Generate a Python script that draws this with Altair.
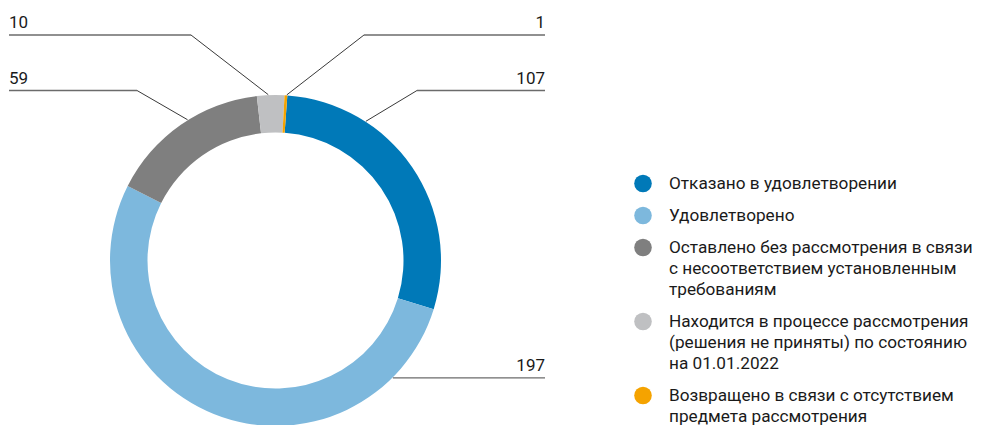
import math
import altair as alt
import pandas as pd

# ---------------- data ----------------
categories = [
    "Отказано в удовлетворении",
    "Удовлетворено",
    "Оставлено без рассмотрения в связи с несоответствием установленным требованиям",
    "Находится в процессе рассмотрения (решения не приняты) по состоянию на 01.01.2022",
    "Возвращено в связи с отсутствием предмета рассмотрения",
]
legend_lines = [
    ["Отказано в удовлетворении"],
    ["Удовлетворено"],
    ["Оставлено без рассмотрения в связи", "с несоответствием установленным", "требованиям"],
    ["Находится в процессе рассмотрения", "(решения не приняты) по состоянию", "на 01.01.2022"],
    ["Возвращено в связи с отсутствием", "предмета рассмотрения"],
]
values = [107, 197, 59, 10, 1]
value_labels = ["107", "197", "59", "10", "1"]
colors = ["#0079b8", "#7db8dd", "#7f7f7f", "#bfc0c2", "#f5a300"]

# ---------------- layout (annotation geometry) ----------------
W, H = 968, 417
M = 8
CX, CY = 275.5, 260.5
R_OUT, R_IN = 165.5, 128
START_DEG = 4.1
LEAD_R = 166
FONT = "Roboto"

leader_angle = [33, 135, 328, -2.5, 3.9]
label_side = ["right", "right", "left", "left", "right"]
row_y = [90.5, None, 90.5, 35, 35]
knee_x = [417, None, 137, 191, 364]
LEFT_X, RIGHT_X = 9, 545

diag_rows, horiz_rows, lab_rows = [], [], []
for i, v in enumerate(values):
    a = math.radians(leader_angle[i])
    ax = CX + LEAD_R * math.sin(a)
    ay = CY - LEAD_R * math.cos(a)
    ky = ay if row_y[i] is None else row_y[i]
    kx = ax if knee_x[i] is None else knee_x[i]
    ex = RIGHT_X if label_side[i] == "right" else LEFT_X
    if knee_x[i] is not None:
        diag_rows.append({"x": ax, "y": ay, "x2": kx, "y2": ky})
    horiz_rows.append({"x": kx, "x2": ex, "y": ky})
    lab_rows.append({"x": ex, "y": ky - 7, "text": value_labels[i], "side": label_side[i]})

diag_df = pd.DataFrame(diag_rows)
horiz_df = pd.DataFrame(horiz_rows)
lab_df = pd.DataFrame(lab_rows)

# legend rows
LEG_SYM_X, LEG_TXT_X = 643, 669
LEG_Y0, LINE_H, ITEM_GAP = 183.5, 21, 32
sym_rows, txt_rows = [], []
y = LEG_Y0
for i, lines in enumerate(legend_lines):
    sym_rows.append({"x": LEG_SYM_X, "y": y, "cat": categories[i]})
    for j, ln in enumerate(lines):
        txt_rows.append({"x": LEG_TXT_X, "y": y + j * LINE_H, "text": ln})
    y = y + (len(lines) - 1) * LINE_H + ITEM_GAP
sym_df = pd.DataFrame(sym_rows)
txt_df = pd.DataFrame(txt_rows)

xs = alt.Scale(domain=[M, M + W], nice=False, zero=False)
ys = alt.Scale(domain=[M, M + H], nice=False, zero=False, reverse=True)
color_scale = alt.Scale(domain=categories, range=colors)

pie_df = pd.DataFrame({"cat": categories, "value": values, "order": list(range(len(values)))})
s = math.radians(START_DEG)
arc = alt.Chart(pie_df).mark_arc(radius=R_OUT, radius2=R_IN, strokeWidth=0).encode(
    theta=alt.Theta("value:Q", stack=True, scale=alt.Scale(range=[s, s + 2 * math.pi])),
    color=alt.Color("cat:N", scale=color_scale, legend=None),
    order=alt.Order("order:Q"),
    x=alt.value(CX - M),
    y=alt.value(CY - M),
)

diag = alt.Chart(diag_df).mark_rule(color="#222222", strokeWidth=0.9).encode(
    x=alt.X("x:Q", scale=xs, axis=None),
    y=alt.Y("y:Q", scale=ys, axis=None),
    x2="x2:Q",
    y2="y2:Q",
)
horiz = alt.Chart(horiz_df).mark_rule(color="#6b6b6b", strokeWidth=1.4).encode(
    x=alt.X("x:Q", scale=xs, axis=None),
    x2="x2:Q",
    y=alt.Y("y:Q", scale=ys, axis=None),
)
lab_left = alt.Chart(lab_df[lab_df.side == "left"]).mark_text(
    align="left", baseline="alphabetic", font=FONT, fontSize=17, color="#1a1a1a"
).encode(x=alt.X("x:Q", scale=xs, axis=None), y=alt.Y("y:Q", scale=ys, axis=None), text="text:N")
lab_right = alt.Chart(lab_df[lab_df.side == "right"]).mark_text(
    align="right", baseline="alphabetic", font=FONT, fontSize=17, color="#1a1a1a"
).encode(x=alt.X("x:Q", scale=xs, axis=None), y=alt.Y("y:Q", scale=ys, axis=None), text="text:N")

sym = alt.Chart(sym_df).mark_point(shape="circle", filled=True, size=310, opacity=1).encode(
    x=alt.X("x:Q", scale=xs, axis=None),
    y=alt.Y("y:Q", scale=ys, axis=None),
    color=alt.Color("cat:N", scale=color_scale, legend=None),
)
leg_txt = alt.Chart(txt_df).mark_text(
    align="left", baseline="middle", font=FONT, fontSize=17.2, color="#1a1a1a"
).encode(x=alt.X("x:Q", scale=xs, axis=None), y=alt.Y("y:Q", scale=ys, axis=None), text="text:N")

chart = alt.layer(arc, diag, horiz, lab_left, lab_right, sym, leg_txt).properties(
    width=W, height=H, autosize=alt.AutoSizeParams(type="none"), padding=0
).configure_view(stroke="transparent")

chart.save("out.html", embed_options={"renderer": "svg", "actions": False})
